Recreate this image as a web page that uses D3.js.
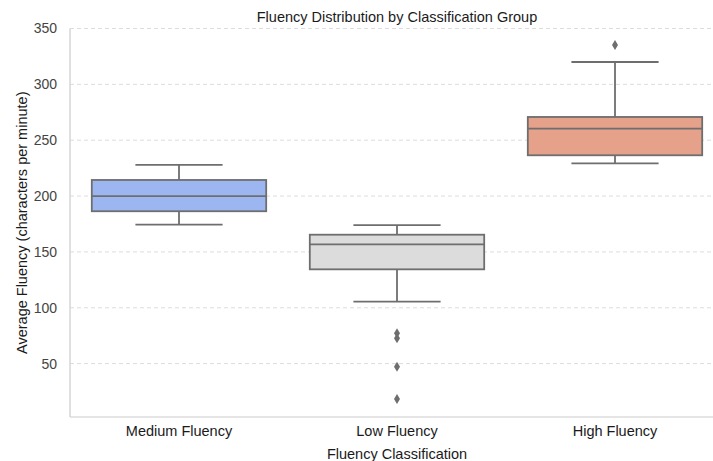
<!DOCTYPE html>
<html>
<head>
  <meta charset="utf-8">
  <title>Fluency Distribution by Classification Group</title>
  <style>
    body { margin: 0; background: #fff; }
    svg { font-family: "Liberation Sans", Arial, sans-serif; }
  </style>
</head>
<body>
  <script src="https://d3js.org/d3.v7.min.js"></script>
  <script>
    // box stats
    var categories = ['Medium Fluency', 'Low Fluency', 'High Fluency'];
    var whiskerLow = [174.4, 105.4, 229.3];
    var q1 = [186.4, 134.4, 236.5];
    var medians = [200, 156.8, 260.3];
    var q3 = [214.4, 165.4, 270.8];
    var whiskerHigh = [228, 174, 320];
    var outliers = [[], [77.1, 72.6, 47.2, 18.3], [335.2]];
    var colors = ['#9bb6f0', '#dcdcdc', '#e5a18a'];
    var yTicks = [50, 100, 150, 200, 250, 300, 350];

    var svgW = 713, svgH = 461;
    // plot box (window.top is reserved, so use other names)
    var plotL = 70, plotT = 28.5, plotR = 724, plotB = 417;
    var lineColor = '#6e6e6e';
    var fs = '14.5px';

    var svg = d3.select('body').append('svg')
      .attr('width', svgW).attr('height', svgH);

    var x = d3.scaleBand().domain(categories).range([plotL, plotR]).padding(0);
    var y = d3.scaleLinear().domain([2.2, 350]).range([plotB, plotT]);

    // grid
    svg.append('g').selectAll('line').data(yTicks).enter().append('line')
      .attr('x1', plotL).attr('x2', plotR)
      .attr('y1', function(d) { return y(d); })
      .attr('y2', function(d) { return y(d); })
      .attr('stroke', '#dcdcdc').attr('stroke-width', 1)
      .attr('stroke-dasharray', '4,3');

    // spines
    svg.append('line').attr('x1', plotL).attr('x2', plotL).attr('y1', plotT).attr('y2', plotB)
      .attr('stroke', '#cccccc').attr('stroke-width', 1.2);
    svg.append('line').attr('x1', plotL).attr('x2', plotR).attr('y1', plotB).attr('y2', plotB)
      .attr('stroke', '#cccccc').attr('stroke-width', 1.2);

    // y axis
    var yAxis = d3.axisLeft(y).tickValues(yTicks).tickSize(0).tickPadding(13);
    var gy = svg.append('g').attr('transform', 'translate(' + plotL + ',0)').call(yAxis);
    gy.select('.domain').remove();
    gy.selectAll('text').attr('font-size', '14px').attr('fill', '#444')
      .attr('font-family', '"Liberation Sans", Arial, sans-serif');

    // x axis
    var xAxis = d3.axisBottom(x).tickSize(0).tickPadding(9);
    var gx = svg.append('g').attr('transform', 'translate(0,' + plotB + ')').call(xAxis);
    gx.select('.domain').remove();
    gx.selectAll('text').attr('font-size', fs).attr('fill', '#1a1a1a')
      .attr('font-family', '"Liberation Sans", Arial, sans-serif');

    var bw = x.bandwidth() * 0.8;
    var capW = bw / 2;
    function cx(d) { return x(d) + x.bandwidth() / 2; }

    var boxes = svg.append('g').selectAll('g').data(categories).enter().append('g');

    // whiskers
    boxes.append('line')
      .attr('x1', cx).attr('x2', cx)
      .attr('y1', function(d, i) { return y(whiskerHigh[i]); })
      .attr('y2', function(d, i) { return y(q3[i]); })
      .attr('stroke', lineColor).attr('stroke-width', 1.8);
    boxes.append('line')
      .attr('x1', cx).attr('x2', cx)
      .attr('y1', function(d, i) { return y(q1[i]); })
      .attr('y2', function(d, i) { return y(whiskerLow[i]); })
      .attr('stroke', lineColor).attr('stroke-width', 1.8);

    [whiskerHigh, whiskerLow].forEach(function(arr) {
      boxes.append('line')
        .attr('x1', function(d) { return cx(d) - capW / 2; })
        .attr('x2', function(d) { return cx(d) + capW / 2; })
        .attr('y1', function(d, i) { return y(arr[i]); })
        .attr('y2', function(d, i) { return y(arr[i]); })
        .attr('stroke', lineColor).attr('stroke-width', 1.8);
    });

    boxes.append('rect')
      .attr('x', function(d) { return cx(d) - bw / 2; })
      .attr('width', bw)
      .attr('y', function(d, i) { return y(q3[i]); })
      .attr('height', function(d, i) { return y(q1[i]) - y(q3[i]); })
      .attr('fill', function(d, i) { return colors[i]; })
      .attr('stroke', lineColor).attr('stroke-width', 1.8);

    boxes.append('line')
      .attr('x1', function(d) { return cx(d) - bw / 2; })
      .attr('x2', function(d) { return cx(d) + bw / 2; })
      .attr('y1', function(d, i) { return y(medians[i]); })
      .attr('y2', function(d, i) { return y(medians[i]); })
      .attr('stroke', lineColor).attr('stroke-width', 1.8);

    // outliers as diamonds
    var pts = [];
    categories.forEach(function(c, i) {
      outliers[i].forEach(function(v) { pts.push({ c: c, v: v }); });
    });
    svg.append('g').selectAll('path').data(pts).enter().append('path')
      .attr('d', 'M0,-5L3,0L0,5L-3,0Z')
      .attr('transform', function(d) {
        return 'translate(' + cx(d.c) + ',' + y(d.v) + ')';
      })
      .attr('fill', '#6e6e6e');

    // labels
    svg.append('text').text('Fluency Distribution by Classification Group')
      .attr('x', (plotL + plotR) / 2).attr('y', 22)
      .attr('text-anchor', 'middle').attr('font-size', fs).attr('fill', '#1a1a1a');
    svg.append('text').text('Fluency Classification')
      .attr('x', (plotL + plotR) / 2).attr('y', 459)
      .attr('text-anchor', 'middle').attr('font-size', fs).attr('fill', '#1a1a1a');
    svg.append('text').text('Average Fluency (characters per minute)')
      .attr('transform', 'translate(27,' + ((plotT + plotB) / 2) + ') rotate(-90)')
      .attr('text-anchor', 'middle').attr('font-size', fs).attr('fill', '#1a1a1a');
  </script>
</body>
</html>
